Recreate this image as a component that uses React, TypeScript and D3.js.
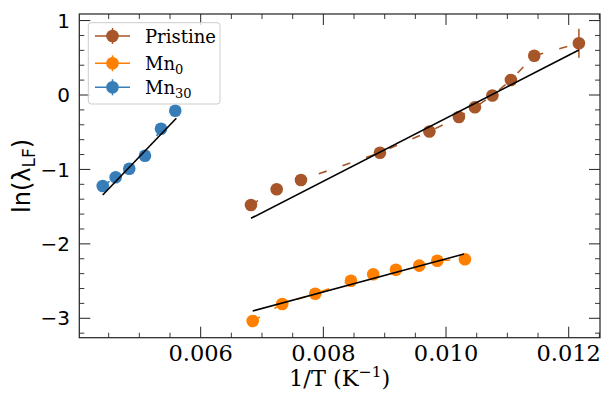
import React from "react";
import * as d3 from "d3";

// ---- data ----
const pristineX = [0.00682, 0.007239, 0.007635, 0.008923, 0.009729, 0.01021, 0.010471, 0.010756, 0.011058, 0.011438, 0.012166];
const pristineY = [-1.478, -1.267, -1.142, -0.775, -0.49, -0.296, -0.165, -0.007, 0.202, 0.528, 0.695];
const pristineErr = [0.05, 0.04, 0.04, 0.04, 0.04, 0.04, 0.04, 0.04, 0.04, 0.05, 0.195];

const mn0X = [0.006848, 0.00733, 0.007868, 0.00845, 0.008813, 0.009183, 0.009563, 0.009857, 0.010308];
const mn0Y = [-3.036, -2.808, -2.67, -2.495, -2.409, -2.347, -2.293, -2.226, -2.207];
const mn0Err = [0.04, 0.04, 0.04, 0.04, 0.04, 0.04, 0.04, 0.04, 0.04];

const mn30X = [0.004403, 0.004614, 0.004836, 0.005092, 0.005353, 0.005586];
const mn30Y = [-1.223, -1.106, -0.99, -0.816, -0.453, -0.211];
const mn30Err = [0.05, 0.05, 0.05, 0.05, 0.05, 0.05];

const pristineFitX = [0.00682, 0.012166];
const pristineFitY = [-1.657, 0.605];
const mn0FitX = [0.006848, 0.010292];
const mn0FitY = [-2.902, -2.137];
const mn30FitX = [0.004403, 0.005603];
const mn30FitY = [-1.344, -0.313];

const xTicks = [0.006, 0.008, 0.01, 0.012];
const xTickLabels = ["0.006", "0.008", "0.010", "0.012"];
const yTicks = [-3, -2, -1, 0, 1];
const yTickLabels = ["\u22123", "\u22122", "\u22121", "0", "1"];

const colors = { pristine: "#a65628", mn0: "#ff7f00", mn30: "#377eb8" };

export default function App() {
  const W = 605, H = 393;
  const L = 79.3, R = 600, T = 14, B = 337.7;
  const x = d3.scaleLinear().domain([0.0040212, 0.0125102]).range([L, R]);
  const y = d3.scaleLinear().domain([-3.2608, 1.0883]).range([B, T]);

  const line = d3.line<[number, number]>().x(d => x(d[0])).y(d => y(d[1]));

  const series = [
    { xs: pristineX, ys: pristineY, es: pristineErr, c: colors.pristine },
    { xs: mn0X, ys: mn0Y, es: mn0Err, c: colors.mn0 },
    { xs: mn30X, ys: mn30Y, es: mn30Err, c: colors.mn30 },
  ];
  const fits = [
    { xs: pristineFitX, ys: pristineFitY },
    { xs: mn0FitX, ys: mn0FitY },
    { xs: mn30FitX, ys: mn30FitY },
  ];

  const xMinor = d3.range(0.0045, 0.01251, 0.0005).filter(v => !xTicks.some(t => Math.abs(t - v) < 1e-9));
  const yMinor = d3.range(-3.2, 1.05, 0.2).filter(v => !yTicks.some(t => Math.abs(t - v) < 1e-9));

  const serif = "DejaVu Serif";
  const sans = "DejaVu Sans";
  const MAJ = 11, MIN = 5;
  const RM = 6.3;

  const legendItems = [
    { label: "Pristine", sub: "", c: colors.pristine, yy: 36 },
    { label: "Mn", sub: "0", c: colors.mn0, yy: 63.3 },
    { label: "Mn", sub: "30", c: colors.mn30, yy: 87.3 },
  ];

  return (
    <svg width={W} height={H} style={{ position: "absolute", left: 0, top: 0, background: "#fff" }}>
      {series.map((s, i) => (
        <g key={i}>
          <path d={line(s.xs.map((v, j) => [v, s.ys[j]]) as [number, number][]) || ""} fill="none" stroke={s.c} strokeWidth={1.6} strokeDasharray="8.3,16.7" />
          {s.xs.map((v, j) => (
            <line key={"e" + j} x1={x(v)} x2={x(v)} y1={y(s.ys[j] - s.es[j])} y2={y(s.ys[j] + s.es[j])} stroke={s.c} strokeWidth={1.5} />
          ))}
          {s.xs.map((v, j) => (
            <circle key={"c" + j} cx={x(v)} cy={y(s.ys[j])} r={RM} fill={s.c} />
          ))}
        </g>
      ))}
      {fits.map((f, i) => (
        <path key={i} d={line(f.xs.map((v, j) => [v, f.ys[j]]) as [number, number][]) || ""} fill="none" stroke="#000" strokeWidth={1.6} />
      ))}

      <rect x={L} y={T} width={R - L} height={B - T} fill="none" stroke="#222" strokeWidth={1.2} />
      {xTicks.map((t, i) => (
        <g key={"xt" + i}>
          <line x1={x(t)} x2={x(t)} y1={B} y2={B - MAJ} stroke="#222" strokeWidth={1} />
          <line x1={x(t)} x2={x(t)} y1={T} y2={T + MAJ} stroke="#222" strokeWidth={1} />
          <text x={x(t)} y={361} textAnchor="middle" fontFamily={serif} fontSize={22.5} fill="#000">{xTickLabels[i]}</text>
        </g>
      ))}
      {xMinor.map((t, i) => (
        <g key={"xm" + i}>
          <line x1={x(t)} x2={x(t)} y1={B} y2={B - MIN} stroke="#222" strokeWidth={0.9} />
          <line x1={x(t)} x2={x(t)} y1={T} y2={T + MIN} stroke="#222" strokeWidth={0.9} />
        </g>
      ))}
      {yTicks.map((t, i) => (
        <g key={"yt" + i}>
          <line x1={L} x2={L + MAJ} y1={y(t)} y2={y(t)} stroke="#222" strokeWidth={1} />
          <line x1={R} x2={R - MAJ} y1={y(t)} y2={y(t)} stroke="#222" strokeWidth={1} />
          <text x={70} y={y(t)} dy="0.36em" textAnchor="end" fontFamily={sans} fontSize={20} fill="#000">{yTickLabels[i]}</text>
        </g>
      ))}
      {yMinor.map((t, i) => (
        <g key={"ym" + i}>
          <line x1={L} x2={L + MIN} y1={y(t)} y2={y(t)} stroke="#222" strokeWidth={0.9} />
          <line x1={R} x2={R - MIN} y1={y(t)} y2={y(t)} stroke="#222" strokeWidth={0.9} />
        </g>
      ))}

      <text x={(L + R) / 2} y={386} textAnchor="middle" fontFamily={serif} fontSize={22.5} fill="#000">
        1/T (K<tspan dy={-9} fontSize={15.5}>{"\u22121"}</tspan><tspan dy={9}>)</tspan>
      </text>
      <text transform={`translate(30,${(T + B) / 2}) rotate(-90)`} textAnchor="middle" fontFamily={sans} fontSize={24} fill="#000">
        ln(λ<tspan dy={5} fontSize={17}>LF</tspan><tspan dy={-5}>)</tspan>
      </text>

      <rect x={88.3} y={22.7} width={131.7} height={81.3} rx={3} fill="#fff" fillOpacity={0.8} stroke="#cccccc" strokeWidth={1} />
      {legendItems.map((it, i) => (
        <g key={"lg" + i}>
          <line x1={95} x2={130} y1={it.yy} y2={it.yy} stroke={it.c} strokeWidth={1.6} strokeDasharray="12,11" />
          <line x1={112.5} x2={112.5} y1={it.yy - 8} y2={it.yy + 8} stroke={it.c} strokeWidth={1.5} />
          <circle cx={112.5} cy={it.yy} r={RM} fill={it.c} />
          <text x={145} y={it.yy + 6.5} fontFamily={serif} fontSize={18} fill="#000">
            {it.label}
            {it.sub ? <tspan dy={4} fontSize={13}>{it.sub}</tspan> : null}
          </text>
        </g>
      ))}
    </svg>
  );
}
